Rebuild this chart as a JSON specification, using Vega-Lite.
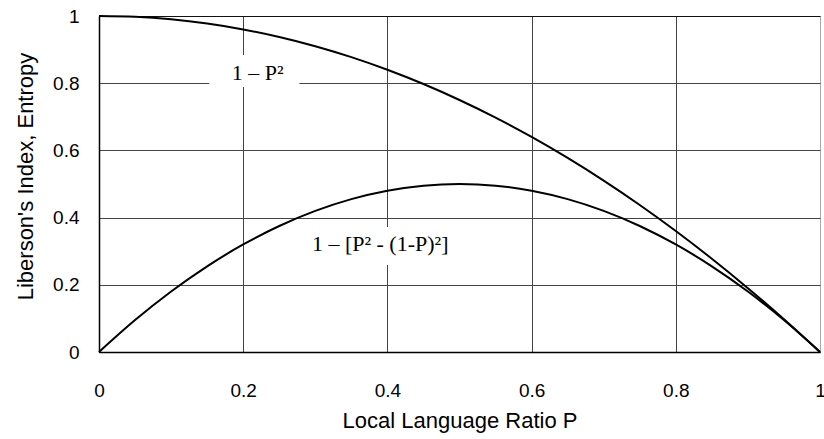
{
  "$schema": "https://vega.github.io/schema/vega-lite/v6.json",
  "width": 721,
  "height": 336,
  "autosize": {"type": "none"},
  "padding": {"left": 99, "top": 16, "right": 4, "bottom": 87},
  "background": "white",
  "config": {
    "view": {"stroke": "#999999", "strokeWidth": 1},
    "axis": {
      "labelFont": "Liberation Sans",
      "titleFont": "Liberation Sans",
      "labelFontSize": 19,
      "titleFontSize": 22,
      "titleFontWeight": "normal",
      "labelColor": "#000000",
      "titleColor": "#000000",
      "domainColor": "#000000",
      "domainWidth": 1.5,
      "ticks": false,
      "gridWidth": 1,
      "gridOpacity": 1
    }
  },
  "datasets": {
    "curves": [
      {"p": 0, "v": 1, "s": "a"}, {"p": 0.05, "v": 0.9975, "s": "a"}, {"p": 0.1, "v": 0.99, "s": "a"}, {"p": 0.15, "v": 0.9775, "s": "a"}, {"p": 0.2, "v": 0.96, "s": "a"}, {"p": 0.25, "v": 0.9375, "s": "a"}, {"p": 0.3, "v": 0.91, "s": "a"}, {"p": 0.35, "v": 0.8775, "s": "a"}, {"p": 0.4, "v": 0.84, "s": "a"}, {"p": 0.45, "v": 0.7975, "s": "a"}, {"p": 0.5, "v": 0.75, "s": "a"}, {"p": 0.55, "v": 0.6975, "s": "a"}, {"p": 0.6, "v": 0.64, "s": "a"}, {"p": 0.65, "v": 0.5775, "s": "a"}, {"p": 0.7, "v": 0.51, "s": "a"}, {"p": 0.75, "v": 0.4375, "s": "a"}, {"p": 0.8, "v": 0.36, "s": "a"}, {"p": 0.85, "v": 0.2775, "s": "a"}, {"p": 0.9, "v": 0.19, "s": "a"}, {"p": 0.95, "v": 0.0975, "s": "a"}, {"p": 1, "v": 0, "s": "a"},
      {"p": 0, "v": 0, "s": "b"}, {"p": 0.05, "v": 0.095, "s": "b"}, {"p": 0.1, "v": 0.18, "s": "b"}, {"p": 0.15, "v": 0.255, "s": "b"}, {"p": 0.2, "v": 0.32, "s": "b"}, {"p": 0.25, "v": 0.375, "s": "b"}, {"p": 0.3, "v": 0.42, "s": "b"}, {"p": 0.35, "v": 0.455, "s": "b"}, {"p": 0.4, "v": 0.48, "s": "b"}, {"p": 0.45, "v": 0.495, "s": "b"}, {"p": 0.5, "v": 0.5, "s": "b"}, {"p": 0.55, "v": 0.495, "s": "b"}, {"p": 0.6, "v": 0.48, "s": "b"}, {"p": 0.65, "v": 0.455, "s": "b"}, {"p": 0.7, "v": 0.42, "s": "b"}, {"p": 0.75, "v": 0.375, "s": "b"}, {"p": 0.8, "v": 0.32, "s": "b"}, {"p": 0.85, "v": 0.255, "s": "b"}, {"p": 0.9, "v": 0.18, "s": "b"}, {"p": 0.95, "v": 0.095, "s": "b"}, {"p": 1, "v": 0, "s": "b"}
    ],
    "labels": [
      {"x": 0.22, "y": 0.83, "x1": 0.153, "x2": 0.278, "y1": 0.789, "y2": 0.884, "t": "1 – P²"},
      {"x": 0.39, "y": 0.322, "x1": 0.28, "x2": 0.5, "y1": 0.259, "y2": 0.372, "t": "1 – [P² - (1-P)²]"}
    ]
  },
  "layer": [
    {
      "data": {"name": "labels"},
      "mark": {"type": "rect", "fill": "white", "stroke": null},
      "encoding": {
        "x": {"field": "x1", "type": "quantitative", "scale": {"domain": [0, 1], "nice": false},
          "axis": {"values": [0, 0.2, 0.4, 0.6, 0.8, 1], "format": "~g", "title": "Local Language Ratio P", "labelPadding": 29, "titleBaseline": "alphabetic", "titleY": 75, "labelFlush": false,
            "gridColor": {"condition": {"test": "datum.value === 1", "value": "#aaaaaa"}, "value": "#444444"}}},
        "x2": {"field": "x2"},
        "y": {"field": "y1", "type": "quantitative", "scale": {"domain": [0, 1], "nice": false},
          "axis": {"values": [0, 0.2, 0.4, 0.6, 0.8, 1], "format": "~g", "title": "Liberson's Index, Entropy", "labelPadding": 20, "titleX": -62, "titleY": 160, "labelFlush": false,
            "gridColor": {"condition": {"test": "datum.value === 1", "value": "#111111"}, "value": "#444444"}}},
        "y2": {"field": "y2"}
      }
    },
    {
      "data": {"name": "curves"},
      "mark": {"type": "line", "color": "#000000", "strokeWidth": 2, "interpolate": "monotone"},
      "encoding": {
        "x": {"field": "p", "type": "quantitative"},
        "y": {"field": "v", "type": "quantitative"},
        "detail": {"field": "s"}
      }
    },
    {
      "data": {"name": "labels"},
      "mark": {"type": "text", "font": "Liberation Serif", "fontSize": 22, "color": "#000000", "align": "center", "baseline": "middle"},
      "encoding": {
        "x": {"field": "x", "type": "quantitative"},
        "y": {"field": "y", "type": "quantitative"},
        "text": {"field": "t"}
      }
    }
  ]
}
